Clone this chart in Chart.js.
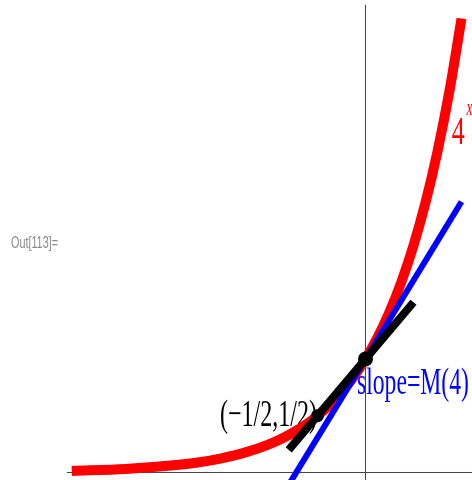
<!DOCTYPE html>
<html>
<head>
<meta charset="utf-8">
<script src="https://cdn.jsdelivr.net/npm/chart.js@4.4.0/dist/chart.umd.min.js"></script>
<style>
  html, body { margin: 0; padding: 0; background: #fff; }
  #wrap { position: relative; width: 472px; height: 480px; }
</style>
</head>
<body>
<div id="wrap"><canvas id="c" width="472" height="480"></canvas></div>
<script>
// ---- data ----
const curveX = [-3.06, -2.5, -2, -1.75, -1.5, -1.25, -1, -0.875, -0.75, -0.625, -0.5, -0.375, -0.25, -0.125, 0, 0.125, 0.25, 0.375, 0.5, 0.625, 0.75, 0.875, 1];
const curveY = [0.014, 0.031, 0.063, 0.088, 0.125, 0.177, 0.25, 0.297, 0.354, 0.42, 0.5, 0.595, 0.707, 0.841, 1, 1.189, 1.414, 1.682, 2, 2.378, 2.828, 3.364, 4];
const tangentX = [-1, 1];          // blue tangent at (0,1), slope M(4)
const tangentY = [-0.386, 2.386];
const secantX = [-0.8, 0.5];       // black line through (-1/2,1/2) and (0,1)
const secantY = [0.2, 1.5];
const dotX = [0, -0.5];
const dotY = [1, 0.5];
const xAxisX = [-3.11, 1.11];
const xAxisY = [0, 0];
const yAxisX = [0, 0];
const yAxisY = [-0.07, 4.12];
const labelTexts = ["4", "x", "slope=M(4)", "(\u22121/2,1/2)", "Out[113]="];

const pts = (xs, ys) => xs.map((x, i) => ({ x: x, y: ys[i] }));

// text placement (data coordinates for anchor, font, colour, target width)
const labels = [
  { t: labelTexts[0], x: 0.898, y: 2.89, font: "40px 'Liberation Serif'", color: "#ff0000", w: 13 },
  { t: labelTexts[1], x: 1.052, y: 3.154, font: "italic 24px 'Liberation Serif'", color: "#ff0000", w: 6 },
  { t: labelTexts[2], x: -0.089, y: 0.692, font: "38px 'Liberation Serif'", color: "#0000ff", w: 112 },
  { t: labelTexts[3], x: -1.516, y: 0.41, font: "38px 'Liberation Serif'", color: "#000000", w: 97 },
  { t: labelTexts[4], x: -3.693, y: 1.978, font: "16px 'Liberation Sans'", color: "#8a8a8a", w: 47 }
];

const textPlugin = {
  id: 'texts',
  beforeDatasetsDraw(chart) {
    const ctx = chart.ctx;
    const xs = chart.scales.x, ys = chart.scales.y;
    labels.forEach(l => {
      ctx.save();
      ctx.font = l.font;
      ctx.fillStyle = l.color;
      ctx.textBaseline = 'alphabetic';
      ctx.textAlign = 'left';
      const px = xs.getPixelForValue(l.x);
      const py = ys.getPixelForValue(l.y);
      const nat = ctx.measureText(l.t).width;
      const sx = l.w / nat;
      ctx.translate(px, py);
      ctx.scale(sx, 1);
      ctx.fillText(l.t, 0, 0);
      ctx.restore();
    });
  }
};

const lineDs = (data, color, width, order) => ({
  data: data, borderColor: color, backgroundColor: color, borderWidth: width,
  pointRadius: 0, showLine: true, fill: false, order: order,
  borderCapStyle: 'butt', borderJoinStyle: 'round'
});

const red = lineDs(pts(curveX, curveY), '#ff0000', 10, 3);
red.cubicInterpolationMode = 'monotone';

new Chart(document.getElementById('c'), {
  type: 'scatter',
  data: {
    datasets: [
      { data: pts(dotX, dotY), pointRadius: [7.5, 6.5], pointBackgroundColor: '#000', pointBorderWidth: 0, backgroundColor: '#000', showLine: false, order: 0 },
      lineDs(pts(secantX, secantY), '#000000', 8, 1),
      lineDs(pts(tangentX, tangentY), '#0000ff', 6, 2),
      red,
      lineDs(pts(xAxisX, xAxisY), '#444444', 1, 4),
      lineDs(pts(yAxisX, yAxisY), '#444444', 1, 4)
    ]
  },
  options: {
    responsive: false,
    animation: false,
    events: [],
    layout: { padding: 0, autoPadding: false },
    plugins: { legend: { display: false }, tooltip: { enabled: false } },
    scales: {
      x: { type: 'linear', min: -3.8073, max: 1.1094, display: false },
      y: { type: 'linear', min: -0.0661, max: 4.163, display: false }
    }
  },
  plugins: [textPlugin]
});
</script>
</body>
</html>
